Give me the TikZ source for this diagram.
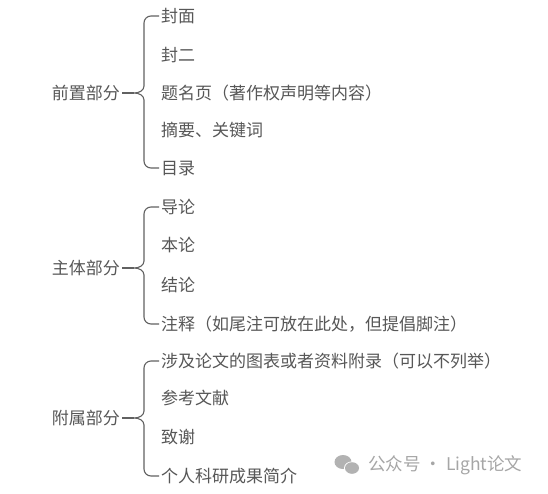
\documentclass[tikz,border=0pt]{standalone}
\usepackage{fontspec}
\newfontfamily\cjk{Noto Sans CJK SC}
\begin{document}
\begin{tikzpicture}[x=1pt,y=-1pt,
  lbl/.style={font=\cjk\fontsize{17}{19}\selectfont, text=black!66, inner sep=2pt, anchor=east},
  item/.style={font=\cjk\fontsize{17}{19}\selectfont, text=black!66, inner sep=2pt, anchor=west},
  brace/.style={draw=black!62, line width=1.1pt, line join=round},
  wm/.style={font=\cjk\fontsize{17.5}{19}\selectfont, text=black!35, inner sep=0pt, anchor=west}]
\useasboundingbox (0,0) rectangle (548,493);
\fill[white] (0,0) rectangle (548,493);
% group 1
\node[lbl] (g1) at (122,93) {前置部分};
\node[item] (i11) at (159,16) {封面};
\node[item] (i12) at (159,55) {封二};
\node[item] (i13) at (159,93) {题名页（著作权声明等内容）};
\node[item] (i14) at (159,130) {摘要、关键词};
\node[item] (i15) at (159,168) {目录};
\coordinate (t1) at (134,93);
\draw[brace] (i11.west) -- (151,16) to[out=180,in=90] (144,23) -- (144,86)
  to[out=-90,in=0] (t1) to[out=0,in=90] (144,100) -- (144,161)
  to[out=-90,in=180] (151,168) -- (i15.west);
\draw[brace] (g1.east) -- (t1);
% group 2
\node[lbl] (g2) at (122,268) {主体部分};
\node[item] (i21) at (159,207) {导论};
\node[item] (i22) at (159,245) {本论};
\node[item] (i23) at (159,285) {结论};
\node[item] (i24) at (159,324) {注释（如尾注可放在此处，但提倡脚注）};
\coordinate (t2) at (134,268);
\draw[brace] (i21.west) -- (151,207) to[out=180,in=90] (144,214) -- (144,261)
  to[out=-90,in=0] (t2) to[out=0,in=90] (144,275) -- (144,317)
  to[out=-90,in=180] (151,324) -- (i24.west);
\draw[brace] (g2.east) -- (t2);
% group 3
\node[lbl] (g3) at (122,418) {附属部分};
\node[item] (i31) at (159,361) {涉及论文的图表或者资料附录（可以不列举）};
\node[item] (i32) at (159,398) {参考文献};
\node[item] (i33) at (159,437) {致谢};
\node[item] (i34) at (159,476) {个人科研成果简介};
\coordinate (t3) at (134,418);
\draw[brace] (i31.west) -- (151,361) to[out=180,in=90] (144,368) -- (144,411)
  to[out=-90,in=0] (t3) to[out=0,in=90] (144,425) -- (144,469)
  to[out=-90,in=180] (151,476) -- (i34.west);
\draw[brace] (g3.east) -- (t3);
% watermark
\fill[black!30] (343,462) ellipse (8.5 and 7);
\fill[white] (352,468) ellipse (8 and 6.6);
\fill[black!30] (352,468) ellipse (7 and 5.8);
\node[wm] (w) at (368,465) {公众号 · Light论文};
\end{tikzpicture}
\end{document}
